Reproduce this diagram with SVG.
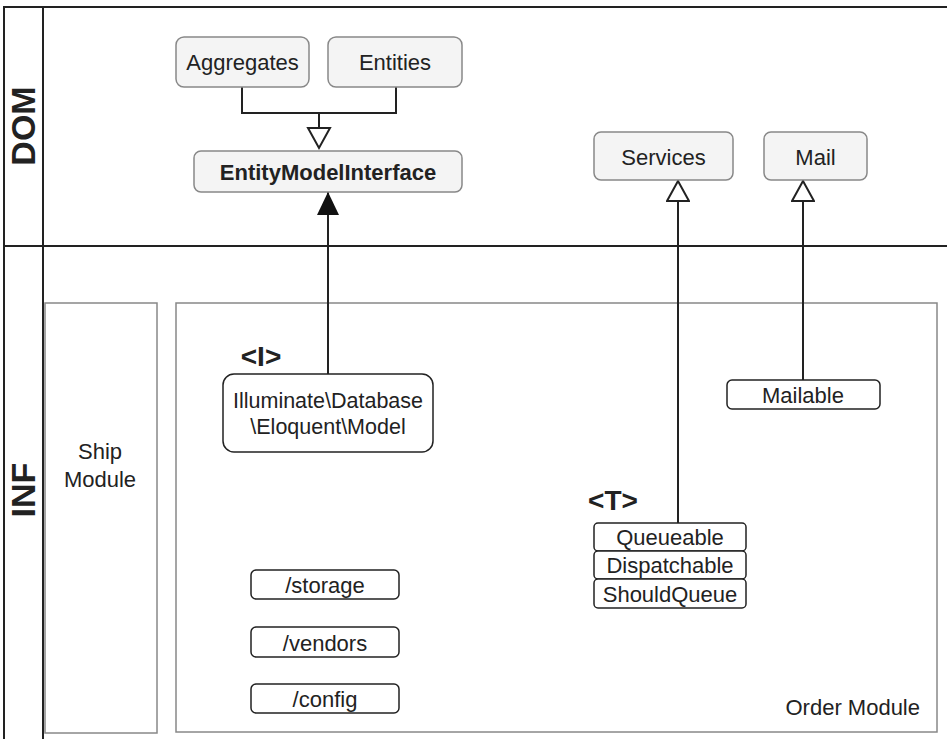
<svg xmlns="http://www.w3.org/2000/svg" width="947" height="739" viewBox="0 0 947 739">
<style>
text{font-family:"Liberation Sans",Arial,sans-serif;fill:#222}
.lane{stroke:#222;stroke-width:2;fill:none}
.mod{fill:none;stroke:#888;stroke-width:1.5}
.dom{fill:#f4f4f4;stroke:#888;stroke-width:1.5}
.inf{fill:#fff;stroke:#222;stroke-width:1.5}
.t{font-size:22px;text-anchor:middle}
.lbl{font-size:34px;font-weight:bold;text-anchor:middle}
.st{font-size:28px;font-weight:bold;text-anchor:middle}
.con{stroke:#222;stroke-width:2;fill:none}
</style>
<defs>
<marker id="hollow" viewBox="0 0 24 22" refX="12" refY="0" markerWidth="24" markerHeight="22" markerUnits="userSpaceOnUse" orient="0">
<path d="M1,21 L12,1 L23,21 Z" fill="#fff" stroke="#222" stroke-width="2"/>
</marker>
<marker id="filled" viewBox="0 0 24 24" refX="12" refY="0" markerWidth="24" markerHeight="24" markerUnits="userSpaceOnUse" orient="0">
<path d="M1,23 L12,0 L23,23 Z" fill="#111"/>
</marker>
</defs>
<rect width="947" height="739" fill="#fff"/>
<g id="lanes">
<path class="lane" d="M947,7 H4 V739 M43,7 V739 M4,246 H947"/>
<text class="lbl" transform="translate(35,126) rotate(-90)">DOM</text>
<text class="lbl" transform="translate(35,490) rotate(-90)">INF</text>
</g>
<g id="ship-module">
<rect class="mod" x="45" y="303" width="112" height="430"/>
<text class="t" x="100" y="459">Ship</text>
<text class="t" x="100" y="487">Module</text>
</g>
<g id="order-module">
<rect class="mod" x="176" y="303" width="761" height="429"/>
<text x="920" y="715" style="font-size:22px;text-anchor:end">Order Module</text>
</g>
<g id="connectors">
<path class="con" d="M242,87 V113 H396 V87 M319,113 V128"/>
<line class="con" x1="328" y1="375" x2="328" y2="192" marker-end="url(#filled)"/>
<line class="con" x1="678" y1="523" x2="678" y2="180" marker-end="url(#hollow)"/>
<line class="con" x1="803" y1="380" x2="803" y2="180" marker-end="url(#hollow)"/>
<path d="M308,128 L319,148 L330,128 Z" fill="#fff" stroke="#222" stroke-width="2"/>
</g>
<g id="aggregates">
<rect class="dom" x="176" y="37" width="133" height="50" rx="8"/>
<text class="t" x="242.5" y="70">Aggregates</text>
</g>
<g id="entities">
<rect class="dom" x="328" y="37" width="134" height="50" rx="8"/>
<text class="t" x="395" y="70">Entities</text>
</g>
<g id="entity-model-interface">
<rect class="dom" x="194" y="151" width="268" height="41" rx="7"/>
<text class="t" x="328" y="180" style="font-weight:bold">EntityModelInterface</text>
</g>
<g id="services">
<rect class="dom" x="594" y="132" width="139" height="48" rx="7"/>
<text class="t" x="663.5" y="165">Services</text>
</g>
<g id="mail">
<rect class="dom" x="764" y="132" width="103" height="48" rx="7"/>
<text class="t" x="815.5" y="165">Mail</text>
</g>
<g id="eloquent-model">
<text class="st" x="261" y="366">&lt;I&gt;</text>
<rect class="inf" x="223" y="374" width="210" height="78" rx="11"/>
<text class="t" x="328" y="408" style="font-size:21.5px">Illuminate\Database</text>
<text class="t" x="328" y="434" style="font-size:21.5px">\Eloquent\Model</text>
</g>
<g id="mailable">
<rect class="inf" x="727" y="380" width="153" height="29" rx="5"/>
<text class="t" x="803" y="403">Mailable</text>
</g>
<g id="traits">
<text class="st" x="613" y="510">&lt;T&gt;</text>
<rect class="inf" x="594" y="523" width="152" height="28" rx="4"/>
<text class="t" x="670" y="545">Queueable</text>
<rect class="inf" x="594" y="551" width="152" height="28" rx="4"/>
<text class="t" x="670" y="573">Dispatchable</text>
<rect class="inf" x="594" y="579" width="152" height="29" rx="4"/>
<text class="t" x="670" y="602">ShouldQueue</text>
</g>
<g id="storage">
<rect class="inf" x="251" y="570" width="148" height="29" rx="5"/>
<text class="t" x="325" y="593">/storage</text>
</g>
<g id="vendors">
<rect class="inf" x="251" y="627" width="148" height="30" rx="5"/>
<text class="t" x="325" y="651">/vendors</text>
</g>
<g id="config">
<rect class="inf" x="251" y="684" width="148" height="29" rx="5"/>
<text class="t" x="325" y="707">/config</text>
</g>
</svg>
